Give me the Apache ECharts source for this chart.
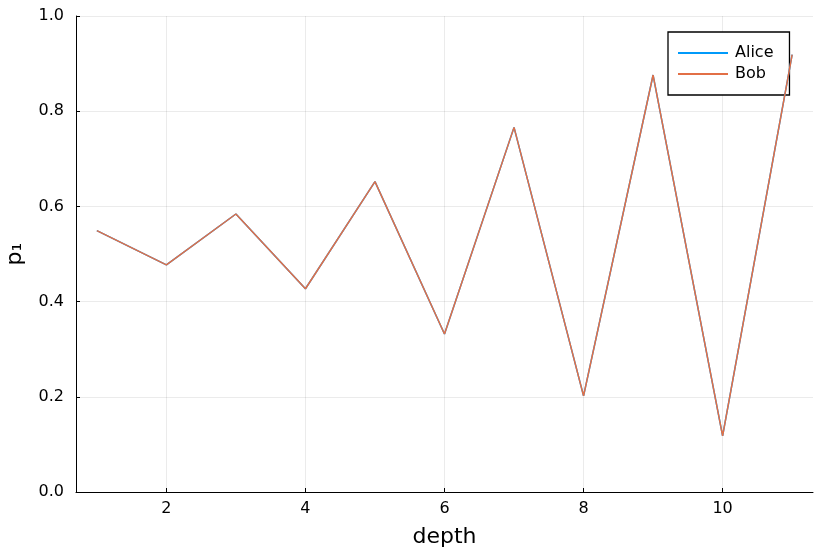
<!DOCTYPE html>
<html>
<head>
<meta charset="utf-8">
<script src="https://cdn.jsdelivr.net/npm/echarts@6/dist/echarts.min.js"></script>
<style>html,body{margin:0;padding:0;background:#fff}#c{width:830px;height:554px}</style>
</head>
<body>
<div id="c"></div>
<script>
const depth = [1, 2, 3, 4, 5, 6, 7, 8, 9, 10, 11];
const alice = [0.549, 0.477, 0.584, 0.427, 0.652, 0.332, 0.766, 0.202, 0.876, 0.118, 0.919];
const bob   = [0.549, 0.477, 0.584, 0.427, 0.652, 0.332, 0.766, 0.202, 0.876, 0.118, 0.919];
const xTicks = [2, 4, 6, 8, 10];
const yTicks = [0.0, 0.2, 0.4, 0.6, 0.8, 1.0];

const font = 'DejaVu Sans';
const chart = echarts.init(document.getElementById('c'), null, {renderer: 'canvas'});
const pairs = (ys) => depth.map((x, i) => [x, ys[i]]);
chart.setOption({
  animation: false,
  backgroundColor: '#fff',
  grid: {left: 76, right: 17, top: 16, bottom: 62, containLabel: false, outerBoundsMode: 'none'},
  xAxis: {
    type: 'value', min: 0.7, max: 11.3,
    name: 'depth', nameLocation: 'middle', nameGap: 34,
    nameTextStyle: {fontFamily: font, fontSize: 22, color: '#000'},
    axisLine: {show: true, onZero: false, lineStyle: {color: '#000', width: 1}},
    axisTick: {show: true, inside: true, length: 4, customValues: xTicks, lineStyle: {color: '#000'}},
    axisLabel: {customValues: xTicks, fontFamily: font, fontSize: 16, color: '#000', margin: 9},
    splitLine: {show: true, lineStyle: {color: 'rgba(0,0,0,0.08)', width: 1}}
  },
  yAxis: {
    type: 'value', min: 0, max: 1,
    name: 'p\u2081', nameLocation: 'middle', nameGap: 50, nameRotate: 90,
    nameTextStyle: {fontFamily: font, fontSize: 22, color: '#000'},
    axisLine: {show: true, onZero: false, lineStyle: {color: '#000', width: 1}},
    axisTick: {show: true, inside: true, length: 4, customValues: yTicks, lineStyle: {color: '#000'}},
    axisLabel: {customValues: yTicks, fontFamily: font, fontSize: 16, color: '#000', margin: 12,
      formatter: v => v.toFixed(1)},
    splitLine: {show: true, lineStyle: {color: 'rgba(0,0,0,0.08)', width: 1}}
  },
  legend: {
    orient: 'vertical', left: 668, top: 32, z: 1,
    padding: [13, 16, 13, 9],
    itemWidth: 50, itemHeight: 14, itemGap: 5,
    itemStyle: {opacity: 0},
    borderColor: '#000', borderWidth: 1.3, backgroundColor: '#fff',
    textStyle: {fontFamily: font, fontSize: 16, color: '#000', padding: [0, 0, 0, 2]},
    data: ['Alice', 'Bob']
  },
  series: [
    {name: 'Alice', type: 'line', data: pairs(alice), symbol: 'none', color: '#009AFA', z: 3,
      lineStyle: {width: 1.5, color: '#009AFA'}},
    {name: 'Bob', type: 'line', data: pairs(bob), symbol: 'none', color: '#E26F46', z: 3,
      lineStyle: {width: 1.5, color: '#E26F46'}}
  ]
});
</script>
</body>
</html>
